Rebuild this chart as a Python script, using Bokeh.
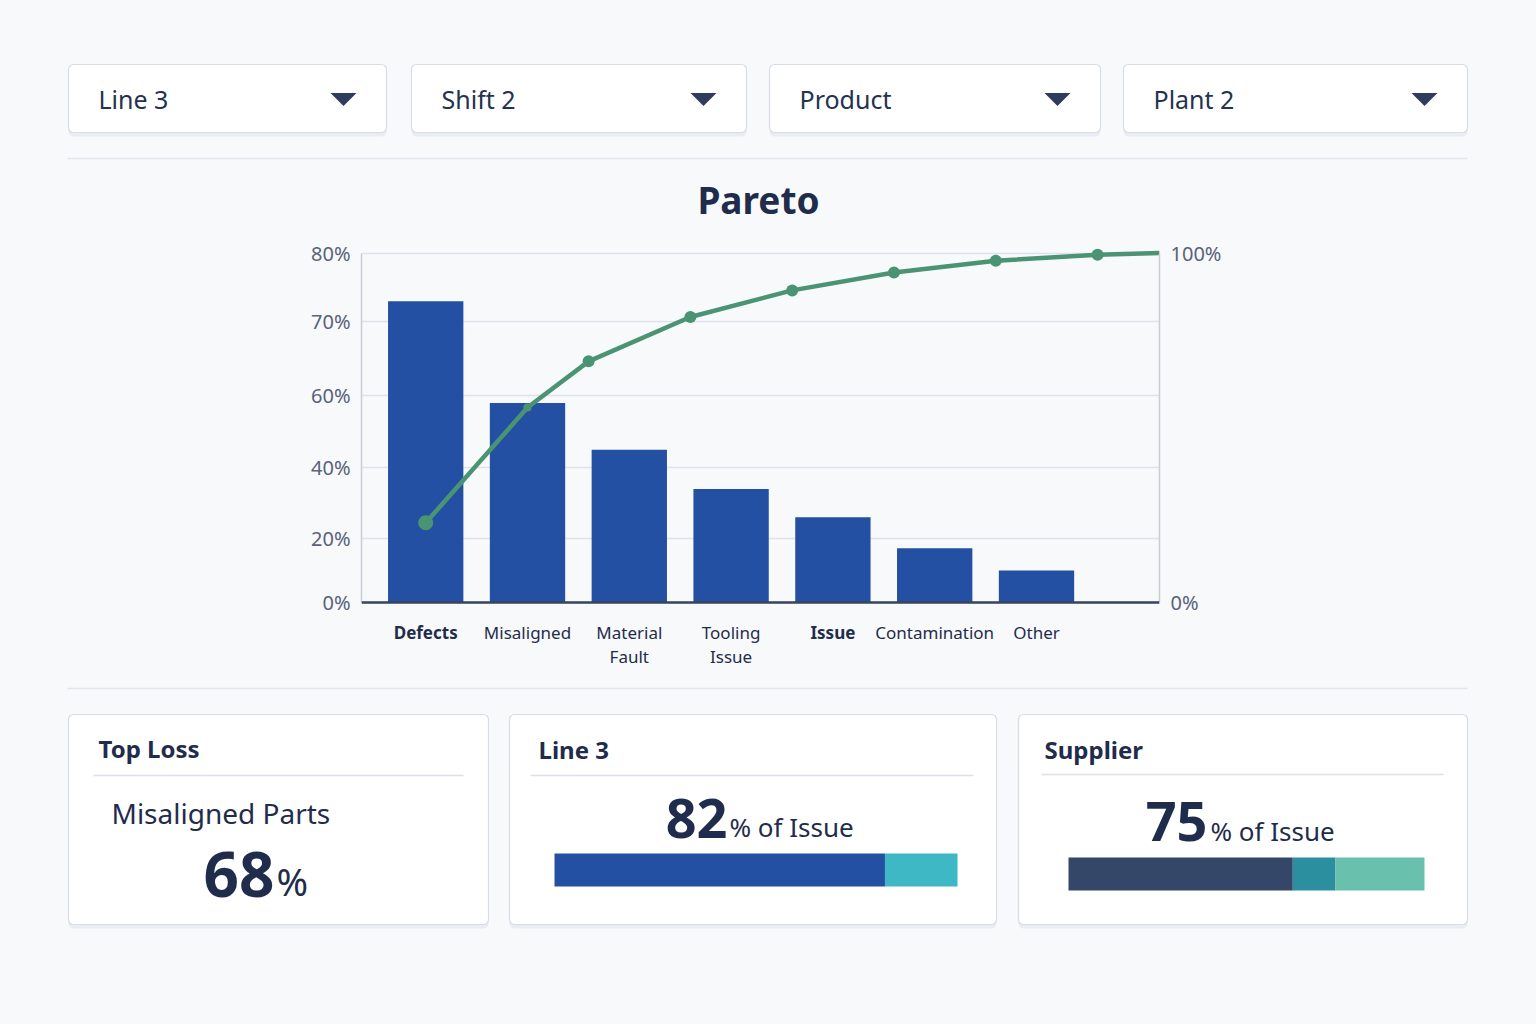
import numpy as np
from bokeh.plotting import figure
from bokeh.layouts import column
from bokeh.models import (Range1d, LinearAxis, FixedTicker, CustomJSTickFormatter,
                          Grid, Span)
from bokeh.core.properties import value
from bokeh.embed import file_html
from bokeh.resources import INLINE

# ---------------- data ----------------
filters = ["Line 3", "Shift 2", "Product", "Plant 2"]

causes = ["Defects", "Misaligned", "Material\nFault", "Tooling\nIssue", "Issue", "Contamination", "Other"]
bold_causes = ["Defects", "Issue"]
cause_pct = [73, 58, 45, 34, 26, 17, 10]            # read on the left axis

cum_at = [0, 1, 1.6, 2.6, 3.6, 4.6, 5.6, 6.6, 7.21]  # position along the cause axis
cum_pct = [22.8, 55.8, 69.0, 81.7, 89.3, 94.4, 97.8, 99.5, 100]

left_tick_labels = [0, 20, 40, 60, 70, 80]
left_tick_at = [0, 18.3, 38.6, 59.1, 80.3, 100]     # where each left label sits on the 0-100 scale

top_loss_name = "Misaligned Parts"
top_loss_pct = 68
line3_split = [82, 18]
supplier_split = [63, 12, 25]

# ---------------- style ----------------
FONT = "Noto Sans"
BG = "#f8f9fb"
NAVY = "#1f2c4b"
BORDER = "#d8dce6"
SHADOW = "#e7eaf1"
BAR = "#2450a3"
GREEN = "#4a9474"
W = 1536


def deco_fig(height, y_top):
    p = figure(width=W, height=height, x_range=Range1d(0, W),
               y_range=Range1d(y_top + height, y_top),
               x_axis_location=None, y_axis_location=None,
               output_backend="svg", toolbar_location=None,
               min_border=0, min_border_left=0, min_border_right=0,
               min_border_top=0, min_border_bottom=0, frame_align=False,
               background_fill_color=BG, border_fill_color=BG,
               outline_line_color=None)
    p.grid.visible = False
    return p


def txt(p, x, y, s, size, style="normal", align="left", baseline="middle", color=NAVY):
    p.text(x=[x], y=[y], text=[s], text_font=value(FONT), text_font_size=f"{size}px",
           text_font_style=style, text_color=color, text_align=align,
           text_baseline=baseline)


def panel(p, l, r, t, b):
    p.quad(left=[l], right=[r], top=[t + 4], bottom=[b + 4], fill_color=SHADOW,
           line_color=None, fill_alpha=0.9, border_radius=5)
    p.quad(left=[l], right=[r], top=[t], bottom=[b], fill_color="white",
           line_color=BORDER, line_width=1.2, border_radius=5)


# ---------------- header: filters + title ----------------
H1 = 228
top = deco_fig(H1, 0)
boxes = [(68, 386), (411, 746), (769, 1100), (1123, 1467)]
for name, (l, r) in zip(filters, boxes):
    panel(top, l, r, 64, 132)
    txt(top, l + 30, 98, name, 25, color="#25324f")
    cx, cy = r - 43, 99
    top.patches(xs=[[cx - 13, cx + 13, cx]], ys=[[cy - 6.5, cy - 6.5, cy + 6.5]],
                fill_color="#2f3d5c", line_color=None)
top.segment(x0=[67], x1=[1467], y0=[158], y1=[158], line_color="#e2e5ec", line_width=1.5)
txt(top, 758, 199, "Pareto", 37, style="bold", align="center")

# ---------------- Pareto chart ----------------
H2 = 454
fig_bottom_px = H1 + H2
frame_top_px, zero_px, hundred_px = 240, 602, 252.5
per_pct = (zero_px - hundred_px) / 100          # pixels per percent on the cumulative scale
y_start = -(fig_bottom_px - zero_px) / per_pct
y_end = (zero_px - frame_top_px) / per_pct
x0_px, step_px = 425.2, 101.8
x_start = (361 - x0_px) / step_px
x_end = (1159 - x0_px) / step_px

p = figure(width=W, height=H2, x_range=Range1d(x_start, x_end), y_range=Range1d(y_start, y_end),
           x_axis_location=None, y_axis_location=None,
           output_backend="svg", toolbar_location=None, frame_align=False,
           min_border_left=361, min_border_right=W - 1159,
           min_border_top=frame_top_px - H1, min_border_bottom=0,
           background_fill_color=BG, border_fill_color=BG, outline_line_color=None)
p.grid.visible = False

left_ticker = FixedTicker(ticks=left_tick_at)
yl = LinearAxis(ticker=left_ticker, bounds=(0, 100),
                formatter=CustomJSTickFormatter(args=dict(labels=[f"{v}%" for v in left_tick_labels]),
                                                code="return labels[index]"))
yr = LinearAxis(ticker=FixedTicker(ticks=[0, 100]), bounds=(0, 100),
                major_label_overrides={0: "0%", 100: "100%"})
for ax in (yl, yr):
    ax.axis_line_color = "#c9cdd7"
    ax.axis_line_width = 1.5
    ax.major_tick_line_color = None
    ax.minor_tick_line_color = None
    ax.major_tick_in = 0
    ax.major_tick_out = 0
    ax.minor_tick_in = 0
    ax.minor_tick_out = 0
    ax.major_label_text_font = FONT
    ax.major_label_text_font_size = "20px"
    ax.major_label_text_color = "#59637a"
    ax.major_label_standoff = 11
p.add_layout(yl, "left")
p.add_layout(yr, "right")
p.add_layout(Grid(dimension=1, ticker=left_ticker, grid_line_color="#dfe2ea", grid_line_width=1.5))

idx = np.arange(len(causes))
bar_top = np.interp(cause_pct, left_tick_labels, left_tick_at)
p.vbar(x=idx, top=bar_top, bottom=0, width=0.74, fill_color=BAR, line_color=None)
p.add_layout(Span(location=0, dimension="width", line_color="#38435c", line_width=2.5))

p.line(cum_at, cum_pct, line_color=GREEN, line_width=4.5)
p.scatter(cum_at[:-1], cum_pct[:-1], size=[15, 8, 12, 12, 12, 12, 12, 12],
          fill_color=GREEN, line_color=None)

# category names under the baseline (second line where the name wraps)
for i, name in enumerate(causes):
    style = "bold" if name in bold_causes else "normal"
    for k, part in enumerate(name.split("\n")):
        p.text(x=[i], y=[-(30 + 24 * k) / per_pct], text=[part],
               text_align="center", text_baseline="middle",
               text_font=value(FONT), text_font_size="17px",
               text_font_style=style, text_color=NAVY)

# ---------------- summary cards ----------------
H3 = 1024 - H1 - H2
bot = deco_fig(H3, H1 + H2)
bot.segment(x0=[67], x1=[1467], y0=[688], y1=[688], line_color="#e2e5ec", line_width=1.5)

cards = [(68, 488), (509, 996), (1018, 1467)]
for l, r in cards:
    panel(bot, l, r, 714, 924)

# card 1
txt(bot, 98, 748, "Top Loss", 24, style="bold")
bot.segment(x0=[93], x1=[463], y0=[775], y1=[775], line_color="#dde0e8", line_width=1.5)
txt(bot, 111, 812, top_loss_name, 28)
txt(bot, 274, 874, f"{top_loss_pct}", 62, style="bold", align="right")
txt(bot, 276, 880, "%", 38)

# card 2
txt(bot, 538, 749, "Line 3", 24, style="bold")
bot.segment(x0=[530], x1=[973], y0=[775], y1=[775], line_color="#dde0e8", line_width=1.5)
txt(bot, 727, 818, f"{line3_split[0]}", 54, style="bold", align="right")
txt(bot, 729, 826, "% of Issue", 26)

# card 3
txt(bot, 1044, 749, "Supplier", 24, style="bold")
bot.segment(x0=[1041], x1=[1443], y0=[774], y1=[774], line_color="#dde0e8", line_width=1.5)
txt(bot, 1207, 821, f"{supplier_split[0] + supplier_split[1]}", 54, style="bold", align="right")
txt(bot, 1210, 830, "% of Issue", 26)


def share_range(px0, px100):
    per = (px100 - px0) / 100
    start = -px0 / per
    return Range1d(start, start + W / per)


bot.extra_x_ranges = {"line3": share_range(554, 957), "supplier": share_range(1068, 1424)}


def split_bar(shares, colors, yc, rng):
    shares = np.array(shares, dtype=float)
    right = np.cumsum(shares)
    left = right - shares
    bot.hbar(y=[yc] * len(shares), left=left, right=right, height=33,
             fill_color=colors, line_color=None, x_range_name=rng)


split_bar(line3_split, ["#2450a3", "#3db8c4"], 869.5, "line3")
split_bar(supplier_split, ["#344768", "#2b8f9f", "#69c0ad"], 873.5, "supplier")

layout = column(top, p, bot, spacing=0, styles={"background-color": BG})
open("out.html", "w").write(file_html(layout, INLINE))
